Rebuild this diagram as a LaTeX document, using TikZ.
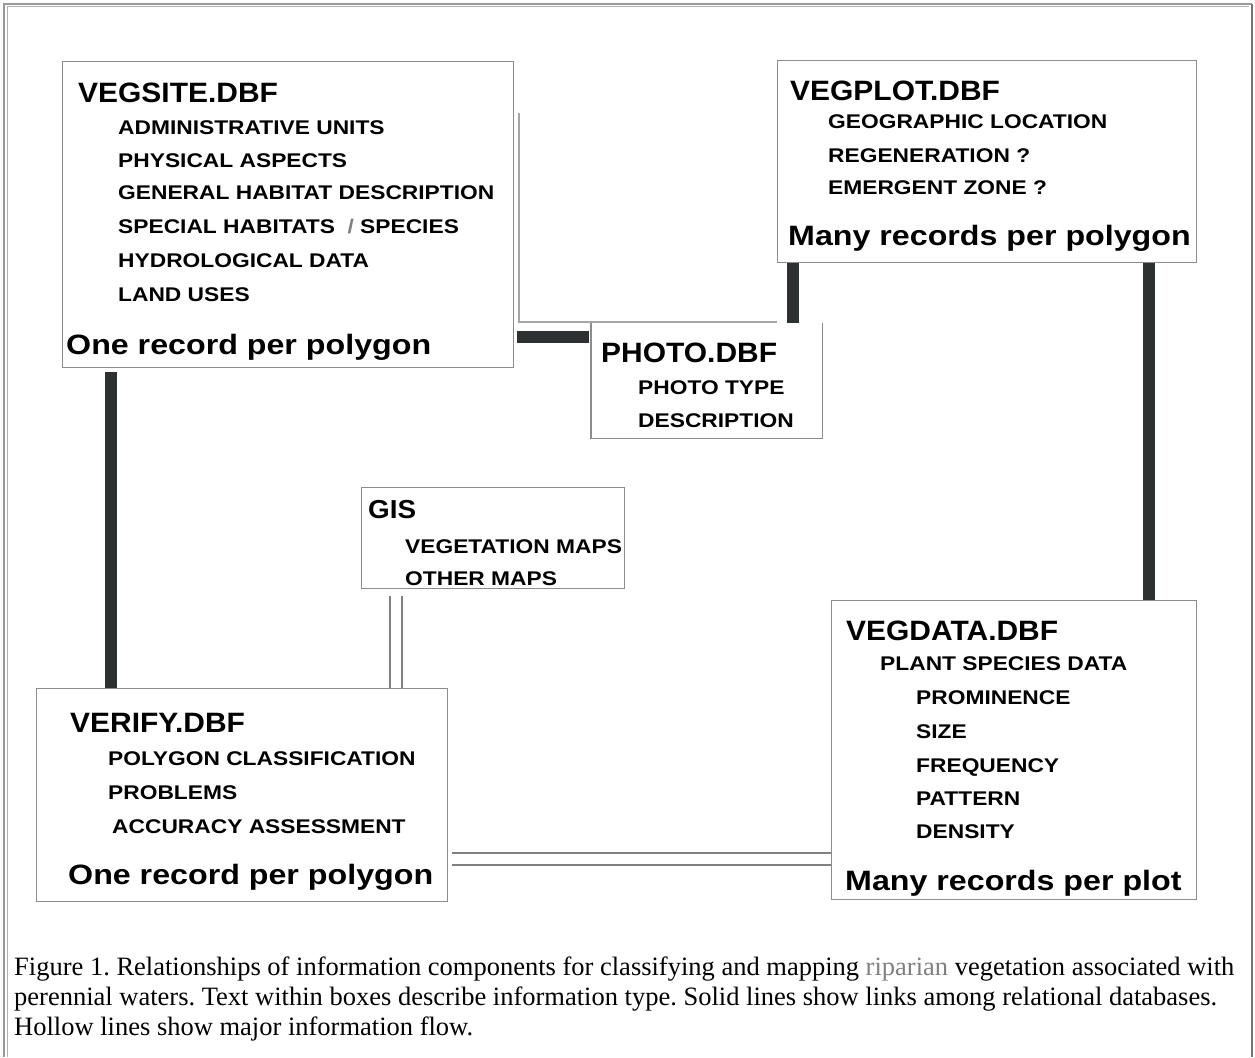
\documentclass[tikz,border=0pt]{standalone}
\usepackage{fontspec}
\setmainfont{Liberation Serif}
\newfontfamily\boxfont[FakeStretch=1.15]{Liberation Sans Bold}
\newfontfamily\titlefont[FakeStretch=1.07]{Liberation Sans Bold}
\definecolor{bardark}{HTML}{2D3131}
\definecolor{boxgray}{HTML}{8C8C8C}
\definecolor{framegray}{HTML}{9A9A9A}
\begin{document}
\begin{tikzpicture}[x=1pt,y=-1pt,
  dbbox/.style={draw=boxgray, line width=1.4pt, anchor=north west, inner sep=0pt},
  ttl/.style={anchor=base west, inner sep=0pt, font=\titlefont\fontsize{28}{30}\selectfont},
  itm/.style={anchor=base west, inner sep=0pt, font=\boxfont\fontsize{19.8}{22}\selectfont},
  foot/.style={anchor=base west, inner sep=0pt, font=\boxfont\fontsize{28}{30}\selectfont},
  captxt/.style={anchor=base west, inner sep=0pt, font=\frenchspacing\fontsize{26.5}{30}\selectfont},
  bar/.style={draw=bardark, line width=12.5pt},
  hollow/.style={draw=gray, line width=1.2pt},
  faint/.style={draw=gray!70, line width=1.2pt}]
\useasboundingbox (0,0) rectangle (1255,1057);
% outer frame (open at the bottom)
\draw[framegray, line width=1.2pt] (1252,4) -- (4,4) -- (4,1057);
\draw[gray!60, line width=1pt] (7,1057) -- (7,7) -- (1249,7);
\draw[gray!90!black, line width=1.4pt] (1252,4) -- (1252,1057);

% boxes
\node[dbbox, minimum width=451pt, minimum height=306pt] (vegsite) at (62,61) {};
\node[dbbox, minimum width=419pt, minimum height=202pt] (vegplot) at (777,60) {};
\node[inner sep=0pt, minimum width=231pt, minimum height=115pt, anchor=north west] (photo) at (591,323) {};
\node[dbbox, minimum width=263pt, minimum height=101pt] (gis) at (361,487) {};
\node[dbbox, minimum width=411pt, minimum height=213pt] (verify) at (36,688) {};
\node[dbbox, minimum width=365pt, minimum height=299pt] (vegdata) at (831,600) {};
\draw[boxgray, line width=1.4pt] (photo.north east) -- (photo.south east) -- (photo.south west) -- (photo.north west);

% VEGSITE text
\node[ttl] (t1) at (78,102) {VEGSITE.DBF};
\node[itm] (t1a) at (118,134) {ADMINISTRATIVE UNITS};
\node[itm] (t1b) at (118,167) {PHYSICAL ASPECTS};
\node[itm] (t1c) at (118,199) {GENERAL HABITAT DESCRIPTION};
\node[itm] (t1d) at (118,233) {SPECIAL HABITATS \ {\color{gray}/} SPECIES};
\node[itm] (t1e) at (118,267) {HYDROLOGICAL DATA};
\node[itm] (t1f) at (118,301) {LAND USES};
\node[foot] (t1g) at (66,354) {One record per polygon};

% VEGPLOT text
\node[ttl] (t2) at (790,100) {VEGPLOT.DBF};
\node[itm] (t2a) at (828,128) {GEOGRAPHIC LOCATION};
\node[itm] (t2b) at (828,162) {REGENERATION ?};
\node[itm] (t2c) at (828,194) {EMERGENT ZONE ?};
\node[foot] (t2d) at (788,245) {Many records per polygon};

% PHOTO text
\node[ttl] (t3) at (601,362) {PHOTO.DBF};
\node[itm] (t3a) at (638,394) {PHOTO TYPE};
\node[itm] (t3b) at (638,427) {DESCRIPTION};

% GIS text
\node[ttl, font=\titlefont\fontsize{26}{28}\selectfont] (t4) at (368,518) {GIS};
\node[itm] (t4a) at (405,553) {VEGETATION MAPS};
\node[itm] (t4b) at (405,585) {OTHER MAPS};

% VERIFY text
\node[ttl] (t5) at (70,732) {VERIFY.DBF};
\node[itm] (t5a) at (108,765) {POLYGON CLASSIFICATION};
\node[itm] (t5b) at (108,799) {PROBLEMS};
\node[itm] (t5c) at (112,833) {ACCURACY ASSESSMENT};
\node[foot] (t5d) at (68,884) {One record per polygon};

% VEGDATA text
\node[ttl] (t6) at (846,640) {VEGDATA.DBF};
\node[itm] (t6a) at (880,670) {PLANT SPECIES DATA};
\node[itm] (t6b) at (916,704) {PROMINENCE};
\node[itm] (t6c) at (916,738) {SIZE};
\node[itm] (t6d) at (916,772) {FREQUENCY};
\node[itm] (t6e) at (916,805) {PATTERN};
\node[itm] (t6f) at (916,838) {DENSITY};
\node[foot] (t6g) at (845,890) {Many records per plot};

% helper coordinates
\coordinate (s1) at (0,337);
\coordinate (s2) at (793,0);
\coordinate (s3) at (111,0);
\coordinate (s4) at (1149,0);
\coordinate (h1) at (390,0);
\coordinate (h2) at (402,0);
\coordinate (h3) at (0,853);
\coordinate (h4) at (0,865);
\coordinate (f1) at (519,113);
\coordinate (f2) at (519,322);
\coordinate (f3) at (777,322);

% solid links
\draw[bar] ([xshift=3pt]vegsite.east |- s1) -- ([xshift=-2pt]photo.west |- s1);
\draw[bar] (vegplot.south -| s2) -- (photo.north -| s2);
\draw[bar] ([yshift=-4pt]vegsite.south -| s3) -- (verify.north -| s3);
\draw[bar] (vegplot.south -| s4) -- (vegdata.north -| s4);

% hollow links
\draw[hollow] ([yshift=-7pt]gis.south -| h1) -- (verify.north -| h1);
\draw[hollow] ([yshift=-7pt]gis.south -| h2) -- (verify.north -| h2);
\draw[hollow] ([xshift=4pt]verify.east |- h3) -- (vegdata.west |- h3);
\draw[hollow] ([xshift=4pt]verify.east |- h4) -- (vegdata.west |- h4);

% faint line
\draw[faint] (f1) -- (f2) -- (f3);

% caption
\node[captxt] (c1) at (14,975) {Figure 1. Relationships of information components for classifying and mapping {\color{gray}riparian} vegetation associated with};
\node[captxt] (c2) at (14,1005) {perennial waters. Text within boxes describe information type. Solid lines show links among relational databases.};
\node[captxt] (c3) at (14,1035) {Hollow lines show major information flow.};
\end{tikzpicture}
\end{document}
